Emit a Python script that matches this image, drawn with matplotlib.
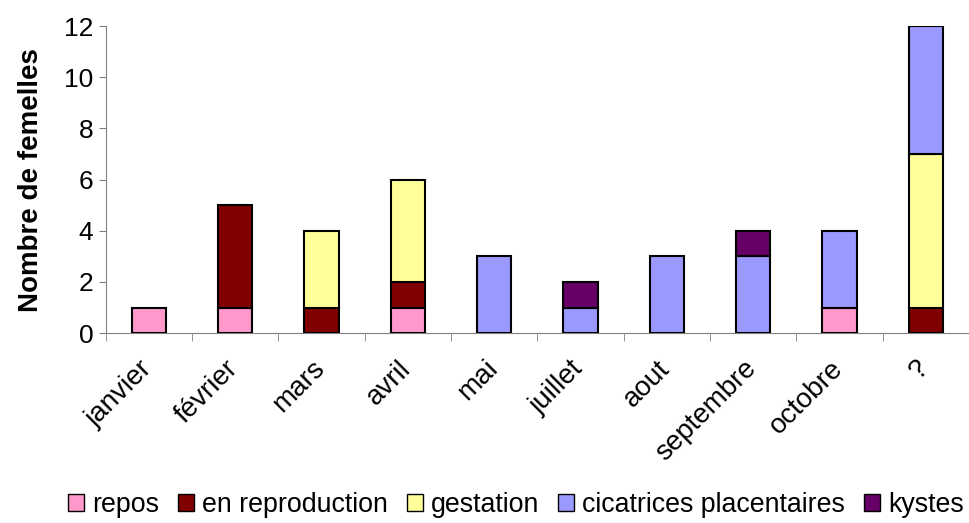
import matplotlib.pyplot as plt
import matplotlib.transforms as mtransforms
import numpy as np
from matplotlib.patches import Patch

plt.rcParams['font.family'] = ['Liberation Sans', 'DejaVu Sans']

mois = ['janvier', 'février', 'mars', 'avril', 'mai', 'juillet', 'aout',
        'septembre', 'octobre', '?']

repos = [1, 1, 0, 1, 0, 0, 0, 0, 1, 0]
reproduction = [0, 4, 1, 1, 0, 0, 0, 0, 0, 1]
gestation = [0, 0, 3, 4, 0, 0, 0, 0, 0, 6]
cicatrices = [0, 0, 0, 0, 3, 1, 3, 3, 3, 5]
kystes = [0, 0, 0, 0, 0, 1, 0, 1, 0, 0]

series = [
    ('repos', repos, '#FF99CC'),
    ('en reproduction', reproduction, '#800000'),
    ('gestation', gestation, '#FFFF99'),
    ('cicatrices placentaires', cicatrices, '#9999FF'),
    ('kystes', kystes, '#660066'),
]

fig = plt.figure(figsize=(9.7, 5.23), dpi=100)
ax = fig.add_axes([0.109, 0.363, 0.89, 0.587])

x = np.arange(len(mois))
bottom = np.zeros(len(mois))
for name, vals, col in series:
    vals = np.array(vals, dtype=float)
    mask = vals > 0
    ax.bar(x[mask], vals[mask], bottom=bottom[mask], width=0.4, color=col,
           edgecolor='black', linewidth=1.5, zorder=3)
    bottom += vals

ax.set_xlim(-0.5, len(mois) - 0.5)
ax.set_ylim(0, 12)
ax.set_yticks(range(0, 13, 2))
ax.tick_params(axis='y', labelsize=19, length=5, color='#808080', pad=4)

ax.set_xticks(x)
ax.set_xticklabels(mois, rotation=45, ha='right', va='top',
                   rotation_mode='anchor', fontsize=20)
ax.tick_params(axis='x', length=0, pad=16)
shift = mtransforms.ScaledTranslation(-10 / 100, 0, fig.dpi_scale_trans)
for lab in ax.get_xticklabels():
    lab.set_transform(lab.get_transform() + shift)
ax.set_xticks(np.arange(-0.5, len(mois)), minor=True)
ax.tick_params(axis='x', which='minor', length=6, color='#808080')

for s in ['top', 'right']:
    ax.spines[s].set_visible(False)
ax.spines['left'].set_color('#808080')
ax.spines['bottom'].set_color('#808080')

ax.set_ylabel('Nombre de femelles', fontsize=20, fontweight='bold', labelpad=14)

handles = [Patch(facecolor=c, edgecolor='black', linewidth=1, label=n)
           for n, _, c in series]
fig.legend(handles=handles, loc='center', bbox_to_anchor=(0.532, 0.034),
           ncol=5, frameon=False, fontsize=19.3, handlelength=0.6,
           handleheight=0.6, handletextpad=0.3, columnspacing=0.7)

fig.savefig('out.png', dpi=100)
